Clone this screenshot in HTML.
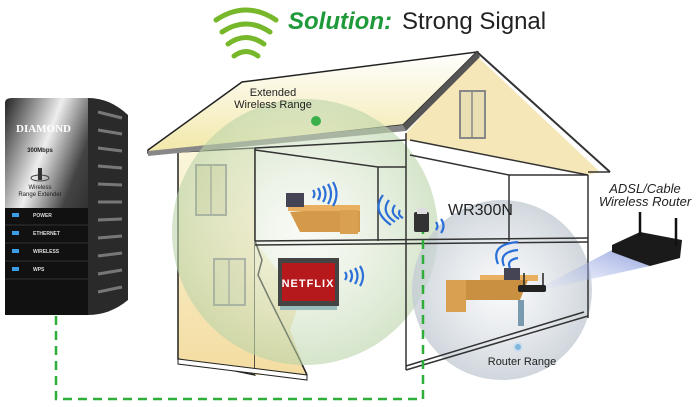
<!DOCTYPE html>
<html><head><meta charset="utf-8"><style>
html,body{margin:0;padding:0;background:#fff;}
svg{display:block;font-family:"Liberation Sans",sans-serif;}
</style></head><body>
<svg width="700" height="407" viewBox="0 0 700 407" xmlns="http://www.w3.org/2000/svg">
<defs>
<linearGradient id="roof" x1="0" y1="0" x2="0" y2="1"><stop offset="0" stop-color="#fff"/><stop offset="1" stop-color="#f2e8a8"/></linearGradient>
<linearGradient id="wall" x1="0" y1="0" x2="0" y2="1"><stop offset="0" stop-color="#fbf6dc"/><stop offset="1" stop-color="#f3dca0"/></linearGradient>
<radialGradient id="gc" cx="0.5" cy="0.5" r="0.5"><stop offset="0" stop-color="#eef3e6" stop-opacity="0.35"/><stop offset="1" stop-color="#b9d3a8" stop-opacity="0.6"/></radialGradient>
<radialGradient id="gr" cx="0.5" cy="0.5" r="0.5"><stop offset="0" stop-color="#f2f4f6" stop-opacity="0.5"/><stop offset="1" stop-color="#c4ccd4" stop-opacity="0.8"/></radialGradient>
<linearGradient id="front" x1="0" y1="0" x2="1" y2="1"><stop offset="0" stop-color="#222"/><stop offset="0.35" stop-color="#eee"/><stop offset="0.6" stop-color="#444"/><stop offset="1" stop-color="#111"/></linearGradient>
<linearGradient id="beam" x1="1" y1="0" x2="0" y2="1"><stop offset="0" stop-color="#6a7fd0"/><stop offset="1" stop-color="#dfe6fa" stop-opacity="0.3"/></linearGradient>
</defs>

<g fill="none" stroke="#76b82a" stroke-width="5" stroke-linecap="round">
<path d="M216 20 Q246 0 276 20"/><path d="M222 32 Q246 16 270 32"/><path d="M228 44 Q246 31 264 44"/><path d="M234 56 Q246 47 258 56"/>
</g>
<text x="288" y="29" font-size="24" font-weight="bold" font-style="italic" fill="#1f9a3a">Solution:</text>
<text x="402" y="29" font-size="24" fill="#222">Strong Signal</text>

<polygon points="178,152 255,148 255,375 178,359" fill="url(#wall)" stroke="#222" stroke-width="1.5"/>
<polygon points="255,148 406,133 406,370 307,375 255,375" fill="#fff"/>
<polygon points="255,241 300,300 290,330 307,375 255,375" fill="url(#wall)"/>
<path d="M255,241 L262,260 L258,275 L270,300 L280,320 L290,340 L300,360 L307,375" fill="none" stroke="#222" stroke-width="1.5"/>
<polygon points="178,359 307,375 307,380 178,364" fill="#fff" stroke="#222"/>

<!-- roof -->
<polygon points="148,150 242,82 477,52 403,125 148,153" fill="url(#roof)" stroke="#222" stroke-width="1.5"/>
<polygon points="406,133 477,56 600,172 588,175 406,140" fill="#f6e7b8"/>
<polyline points="403,127 477,52 610,172" fill="none" stroke="#333" stroke-width="2"/>
<polygon points="148,151 403,125 406,131 148,156" fill="#888"/>
<polygon points="403,125 477,52 480,57 406,131" fill="#555"/>
<line x1="588" y1="172" x2="610" y2="172" stroke="#333" stroke-width="1.5"/>

<g fill="#e9dfb3" stroke="#888" stroke-width="2">
<rect x="196" y="165" width="30" height="50"/><rect x="214" y="259" width="31" height="46"/><rect x="460" y="91" width="25" height="47"/>
</g>
<g stroke="#888" stroke-width="1.5"><line x1="211" y1="165" x2="211" y2="215"/><line x1="229" y1="259" x2="229" y2="305"/><line x1="472" y1="91" x2="472" y2="138"/></g>

<circle cx="305" cy="232" r="133" fill="url(#gc)"/>
<circle cx="502" cy="290" r="90" fill="url(#gr)"/>

<g fill="none" stroke="#333" stroke-width="1.5">
<line x1="255" y1="148" x2="406" y2="140"/>
<line x1="255" y1="148" x2="255" y2="241"/>
<polyline points="255,150 378,167 378,241"/>
<line x1="378" y1="167" x2="406" y2="167"/>
<line x1="406" y1="133" x2="406" y2="370"/>
<line x1="410" y1="140" x2="588" y2="175"/>
<line x1="410" y1="155" x2="509" y2="175"/>
<line x1="509" y1="175" x2="588" y2="175"/>
<line x1="509" y1="175" x2="509" y2="241"/>
<line x1="588" y1="175" x2="588" y2="318"/>
<line x1="255" y1="241" x2="588" y2="238"/>
<line x1="255" y1="245" x2="588" y2="242"/>
<line x1="406" y1="370" x2="588" y2="316"/>
<line x1="406" y1="366" x2="584" y2="312"/>
</g>

<text x="273" y="96" font-size="11" text-anchor="middle" fill="#222">Extended</text>
<text x="273" y="108" font-size="11" text-anchor="middle" fill="#222">Wireless Range</text>
<circle cx="316" cy="121" r="5" fill="#3bb04a"/>

<g>
<polygon points="290,212 360,207 360,232 300,232" fill="#d49a4a"/>
<rect x="288" y="205" width="72" height="6" fill="#e8b060"/>
<rect x="340" y="210" width="18" height="24" fill="#d8a050"/>
<rect x="286" y="193" width="18" height="14" fill="#445"/>
<rect x="480" y="275" width="58" height="6" fill="#e8b060"/>
<rect x="446" y="280" width="20" height="32" fill="#d8a050"/>
<polygon points="466,280 528,280 520,300 466,300" fill="#c89040"/>
<rect x="504" y="268" width="16" height="12" fill="#445"/>
<rect x="518" y="300" width="6" height="26" fill="#7a9ab0"/>
</g>
<rect x="278" y="258" width="61" height="48" fill="#444"/>
<rect x="282" y="263" width="53" height="38" fill="#b5191c"/>
<text x="308" y="287" font-size="11" font-weight="bold" text-anchor="middle" fill="#fff" letter-spacing="1">NETFLIX</text>
<rect x="280" y="306" width="57" height="4" fill="#9bb"/>
<g fill="none" stroke="#2a6fd8" stroke-width="2.2">
<path d="M313 190 q3 4 0 8"/><path d="M318 188 q4 6 0 12"/><path d="M323 186 q5 8 0 16"/><path d="M328 184 q6 10 0 20"/><path d="M333 182 q7 12 0 24"/>
<path d="M345 272 q3 4 0 8"/><path d="M350 270 q4 6 0 12"/><path d="M355 268 q5 8 0 16"/><path d="M360 266 q6 10 0 20"/>
<path d="M395 205 q-6 8 4 14"/><path d="M389 200 q-9 12 6 22"/><path d="M383 195 q-12 16 8 30"/><path d="M400 210 q-3 5 3 8"/>
<path d="M436 222 q3 4 0 8"/><path d="M441 219 q5 7 0 14"/>
<path d="M510 268 q-4-8 8-10"/><path d="M504 266 q-6-14 14-16"/><path d="M498 264 q-8-20 20-22"/>
</g>
<rect x="414" y="212" width="15" height="20" rx="2" fill="#333"/>
<rect x="417" y="208" width="10" height="6" fill="#ddd"/>
<text x="448" y="215" font-size="16" fill="#222">WR300N</text>

<polygon points="532,292 612,250 650,266" fill="url(#beam)" opacity="0.7"/>
<rect x="518" y="285" width="28" height="7" rx="2" fill="#222"/>
<line x1="524" y1="285" x2="524" y2="273" stroke="#222" stroke-width="1.5"/><line x1="543" y1="285" x2="543" y2="273" stroke="#222" stroke-width="1.5"/>
<polygon points="612,245 640,232 682,240 680,258 650,266 612,252" fill="#1a1a1a"/>
<line x1="640" y1="236" x2="640" y2="212" stroke="#111" stroke-width="2.5"/><line x1="676" y1="246" x2="676" y2="218" stroke="#111" stroke-width="2.5"/>
<text x="645" y="193" font-size="13" font-style="italic" text-anchor="middle" fill="#222">ADSL/Cable</text>
<text x="645" y="206" font-size="13" font-style="italic" text-anchor="middle" fill="#222">Wireless Router</text>

<circle cx="518" cy="347" r="4" fill="#7fb7df" stroke="#cde" stroke-width="2"/>
<text x="522" y="365" font-size="11" text-anchor="middle" fill="#222">Router Range</text>

<polyline points="56,316 56,399 423,399 423,232" fill="none" stroke="#2fae3a" stroke-width="2.5" stroke-dasharray="9,6"/>

<path d="M88,98 Q110,98 128,115 L128,300 Q110,315 88,315 Z" fill="#2a2a2a"/>
<g stroke="#777" stroke-width="3">
<line x1="98" y1="112" x2="122" y2="118"/><line x1="98" y1="130" x2="122" y2="134"/><line x1="98" y1="148" x2="122" y2="151"/><line x1="98" y1="166" x2="122" y2="168"/><line x1="98" y1="184" x2="122" y2="185"/><line x1="98" y1="202" x2="122" y2="202"/><line x1="98" y1="220" x2="122" y2="219"/><line x1="98" y1="238" x2="122" y2="236"/><line x1="98" y1="256" x2="122" y2="253"/><line x1="98" y1="274" x2="122" y2="270"/><line x1="98" y1="292" x2="122" y2="287"/>
</g>
<path d="M5,103 Q5,98 12,98 L88,98 L88,315 L8,315 Q5,315 5,310 Z" fill="url(#front)"/>
<rect x="5" y="208" width="83" height="107" fill="#111"/>
<text x="16" y="132" font-size="11" font-weight="bold" fill="#fff" font-family="Liberation Serif,serif">DIAMOND</text>
<text x="40" y="152" font-size="6" fill="#222" text-anchor="middle" font-weight="bold">300Mbps</text>
<ellipse cx="40" cy="178" rx="9" ry="3" fill="none" stroke="#444"/>
<rect x="38" y="168" width="4" height="12" fill="#333"/>
<text x="40" y="189" font-size="6" fill="#222" text-anchor="middle">Wireless</text>
<text x="40" y="196" font-size="6" fill="#222" text-anchor="middle">Range Extender</text>
<g fill="#3a9ee8"><rect x="12" y="213" width="7" height="4"/><rect x="12" y="231" width="7" height="4"/><rect x="12" y="249" width="7" height="4"/><rect x="12" y="267" width="7" height="4"/></g>
<g font-size="5" fill="#ddd" font-weight="bold"><text x="33" y="217">POWER</text><text x="33" y="235">ETHERNET</text><text x="33" y="253">WIRELESS</text><text x="33" y="271">WPS</text></g>
<g stroke="#333"><line x1="5" y1="225" x2="88" y2="225"/><line x1="5" y1="243" x2="88" y2="243"/><line x1="5" y1="261" x2="88" y2="261"/><line x1="5" y1="279" x2="88" y2="279"/></g>
</svg>
</body></html>
